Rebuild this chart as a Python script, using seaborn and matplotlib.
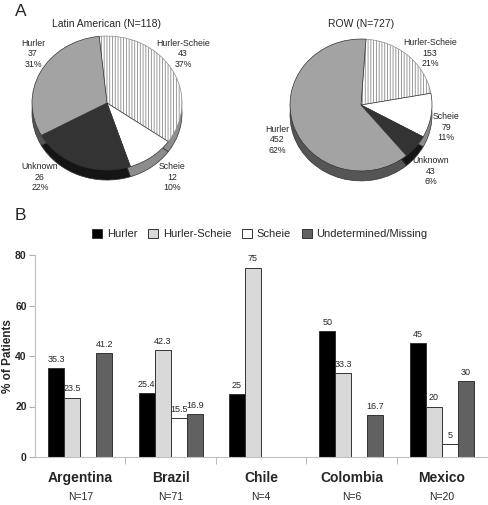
import matplotlib
matplotlib.use("Agg")
import matplotlib.pyplot as plt
import matplotlib.transforms as mtransforms
import pandas as pd
import seaborn as sns

# Panel A: pie data
pie_labels = ["Hurler-Scheie", "Scheie", "Unknown", "Hurler"]
latin_counts = [43, 12, 26, 37]
latin_pcts = [37, 10, 22, 31]
row_counts = [153, 79, 43, 452]
row_pcts = [21, 11, 6, 62]

# Panel B: bar data (None = no bar)
countries = ["Argentina", "Brazil", "Chile", "Colombia", "Mexico"]
country_n = [17, 71, 4, 6, 20]
types = ["Hurler", "Hurler-Scheie", "Scheie", "Undetermined/Missing"]
hurler = [35.3, 25.4, 25, 50, 45]
hurler_scheie = [23.5, 42.3, 75, 33.3, 20]
scheie = [None, 15.5, None, None, 5]
undetermined = [41.2, 16.9, None, 16.7, 30]

W, H = 488, 505


def px_axes(fig, left, top, width, height):
    # axes from pixel box (top-left origin)
    return fig.add_axes([left / W, 1 - (top + height) / H, width / W, height / H])


def fig_text(fig, x, y, s, **kw):
    fig.text(x / W, 1 - y / H, s, **kw)


def draw_pie(ax, counts, startangle):
    top_cols = ["white", "white", "#333333", "#a3a3a3"]
    side_cols = ["#8c8c8c", "#8c8c8c", "#151515", "#555555"]
    # shadow/rim
    ax.pie(counts, colors=side_cols, startangle=startangle, counterclock=False,
           center=(0, -0.15), wedgeprops=dict(edgecolor="#333333", linewidth=0.5))
    wedges, _ = ax.pie(counts, colors=top_cols, startangle=startangle, counterclock=False,
                       wedgeprops=dict(edgecolor="#333333", linewidth=0.5))
    wedges[0].set_hatch("||||||")
    wedges[0].set_edgecolor("#8a8a8a")
    ax.set_aspect("auto")
    ax.set_xlim(-1.0, 1.0)
    ax.set_ylim(-1.2, 1.0)
    ax.axis("off")


sns.set_style("white")
plt.rcParams["font.family"] = ["Liberation Sans", "DejaVu Sans"]
plt.rcParams["hatch.linewidth"] = 0.6

fig = plt.figure(figsize=(W / 100, H / 100), dpi=100)

# ---- Panel A ----
fig_text(fig, 15, 11, "A", fontsize=12.5, va="center", ha="left")
fig_text(fig, 106, 24, "Latin American (N=118)", fontsize=7.5, ha="center", va="center")
fig_text(fig, 361, 24, "ROW (N=727)", fontsize=7.5, ha="center", va="center")

ax1 = px_axes(fig, 32, 36, 150, 67 * 2.2)
draw_pie(ax1, latin_counts, 96)
ax2 = px_axes(fig, 290, 39, 142, 66 * 2.2)
draw_pie(ax2, row_counts, 86)

lat_pos = [(183, 54), (172, 177), (40, 177), (33, 54)]
row_pos = [(430, 53), (446, 127), (431, 171), (277, 140)]
for lab, c, p, (x, y) in zip(pie_labels, latin_counts, latin_pcts, lat_pos):
    fig_text(fig, x, y, f"{lab}\n{c}\n{p}%", fontsize=6.3, ha="center", va="center", linespacing=1.2)
for lab, c, p, (x, y) in zip(pie_labels, row_counts, row_pcts, row_pos):
    fig_text(fig, x, y, f"{lab}\n{c}\n{p}%", fontsize=6.3, ha="center", va="center", linespacing=1.2)

# ---- Panel B ----
fig_text(fig, 15, 216, "B", fontsize=12.5, va="center", ha="left")

df = pd.DataFrame({"Country": countries, "Hurler": hurler, "Hurler-Scheie": hurler_scheie,
                   "Scheie": scheie, "Undetermined/Missing": undetermined})
long = df.melt(id_vars="Country", var_name="Type", value_name="Pct").dropna()
long["Pct"] = long["Pct"].astype(float)

palette = {"Hurler": "#000000", "Hurler-Scheie": "#d9d9d9", "Scheie": "#ffffff",
           "Undetermined/Missing": "#616161"}

ax = px_axes(fig, 35, 255, 452, 202)
sns.barplot(data=long, x="Country", y="Pct", hue="Type", order=countries, hue_order=types,
            palette=palette, width=0.71, edgecolor="#333333", linewidth=0.7,
            saturation=1, ax=ax, legend=True)

for cont in ax.containers:
    ax.bar_label(cont, fmt="{:g}", fontsize=6.5, padding=3)

ax.set_ylim(0, 80)
ax.set_xlim(-0.5, 4.5)
ax.set_yticks([0, 20, 40, 60, 80])
ax.set_ylabel("% of Patients", fontsize=8.5, fontweight="bold", labelpad=1)
ax.set_xlabel("")
for t in ax.get_yticklabels():
    t.set_fontweight("bold")
ax.tick_params(axis="y", labelsize=7.5, length=4, color="#b0b0b0", left=True, pad=2)
ax.tick_params(axis="x", which="major", length=0, labelsize=10, pad=10)
for t in ax.get_xticklabels():
    t.set_fontweight("bold")
ax.set_xticks([0.5, 1.5, 2.5, 3.5], minor=True)
ax.tick_params(axis="x", which="minor", length=5, color="#b0b0b0", bottom=True)
sns.despine(ax=ax, top=True, right=True)
ax.spines["left"].set_color("#c0c0c0")
ax.spines["bottom"].set_color("#c0c0c0")

trans = mtransforms.blended_transform_factory(ax.transData, ax.transAxes)
for i, n in enumerate(country_n):
    ax.text(i, -0.2, f"N={n}", transform=trans, ha="center", va="center", fontsize=7.5)

handles, labels = ax.get_legend_handles_labels()
ax.legend(handles, labels, ncol=4, frameon=False, fontsize=8, loc="center",
          bbox_to_anchor=(260 / W, 1 - 234 / H), bbox_transform=fig.transFigure,
          handlelength=0.9, handleheight=0.9, handletextpad=0.4, columnspacing=1.0)

fig.savefig("out.png", dpi=100)
